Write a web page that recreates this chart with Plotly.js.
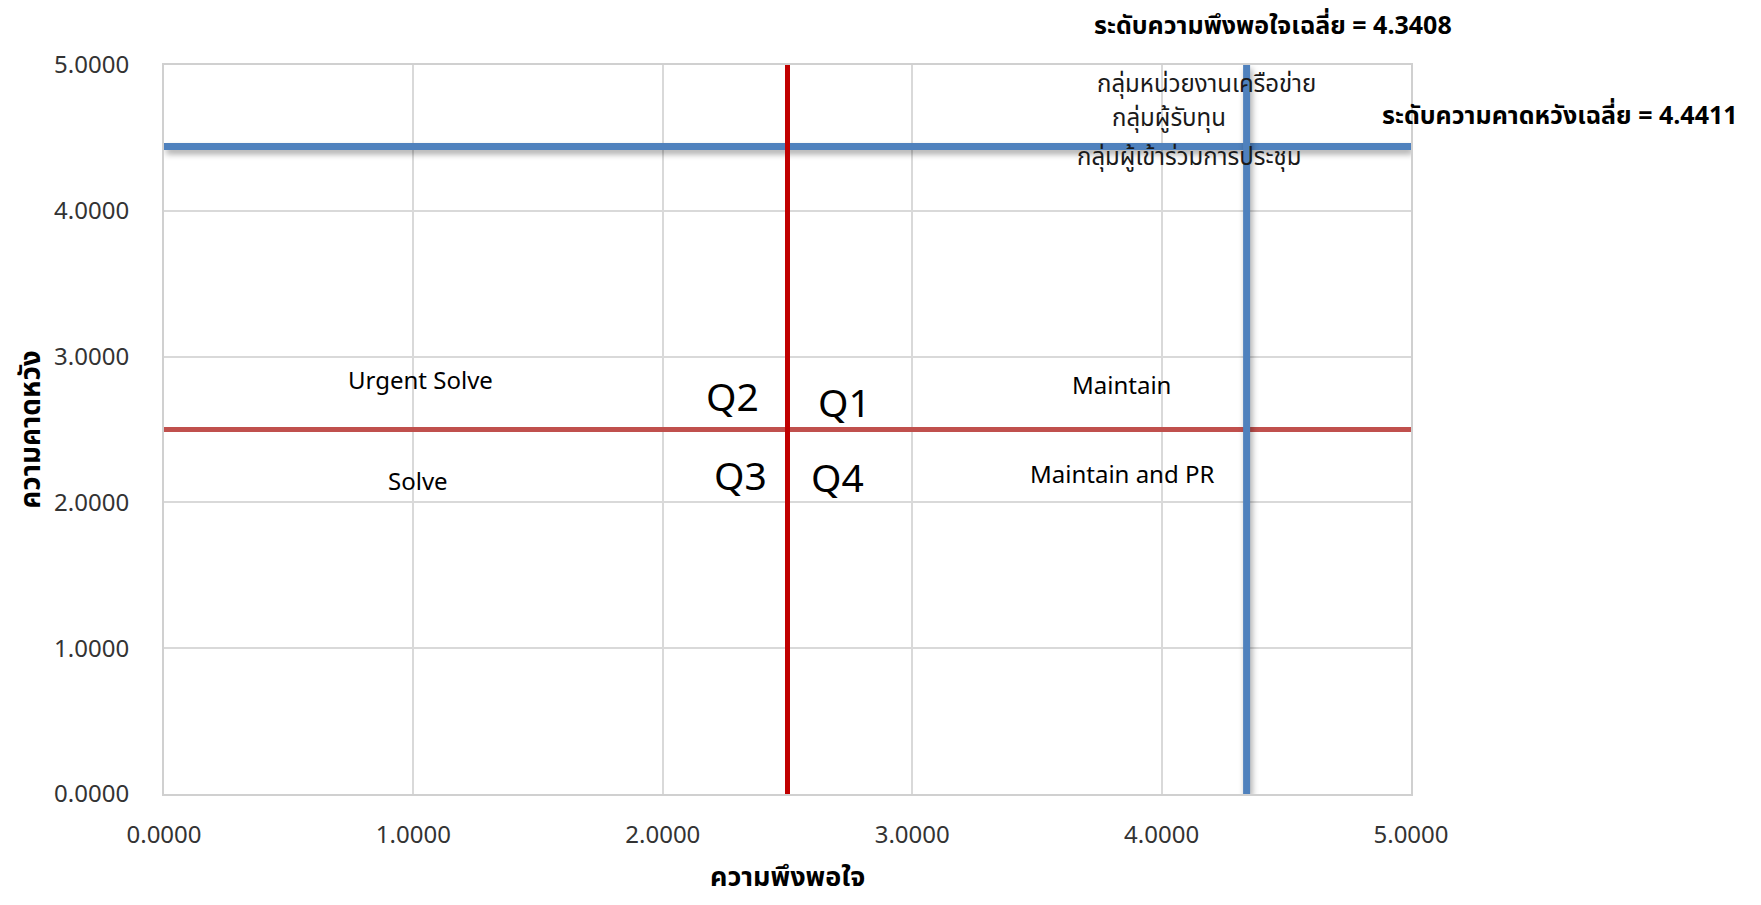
<!DOCTYPE html>
<html>
<head>
<meta charset="utf-8">
<script src="https://cdn.plot.ly/plotly-3.0.1.min.js"></script>
<style>
  html, body { margin: 0; padding: 0; background: #ffffff; }
  #chart { width: 1761px; height: 905px; }
</style>
</head>
<body>
<div id="chart"></div>
<script>
// Quadrant analysis: satisfaction (x) vs expectation (y)
const axisRange = [0, 5];
const tickValues = [0, 1, 2, 3, 4, 5];

// Quadrant dividers at the scale midpoint
const midpoint = 2.5;

// Average levels
const satisfactionMean = 4.3408;
const expectationMean = 4.4411;

// Stakeholder groups (label positions in data units)
const groupNames = ['กลุ่มหน่วยงานเครือข่าย', 'กลุ่มผู้รับทุน', 'กลุ่มผู้เข้าร่วมการประชุม'];
const groupX = [4.18, 4.03, 4.11];
const groupY = [4.86, 4.63, 4.36];

// Quadrant labels
const quadNames = ['Q2', 'Q1', 'Q3', 'Q4'];
const quadX = [2.28, 2.73, 2.31, 2.70];
const quadY = [2.73, 2.69, 2.19, 2.18];

const zoneNames = ['Urgent Solve', 'Solve', 'Maintain', 'Maintain and PR'];
const zoneX = [1.03, 1.02, 3.84, 3.84];
const zoneY = [2.84, 2.15, 2.81, 2.20];

const thaiFont = 'Noto Sans Thai, Noto Sans, sans-serif';
const latinFont = 'Noto Sans, DejaVu Sans, sans-serif';

const traces = [
  { // horizontal divider (expectation midpoint)
    x: axisRange, y: [midpoint, midpoint], mode: 'lines',
    line: { color: '#c0504d', width: 5 }, hoverinfo: 'skip', cliponaxis: false
  },
  { // average expectation
    x: axisRange, y: [expectationMean, expectationMean], mode: 'lines',
    line: { color: '#4f81bd', width: 7 }, hoverinfo: 'skip', cliponaxis: false
  },
  { // vertical divider (satisfaction midpoint)
    x: [midpoint, midpoint], y: axisRange, mode: 'lines',
    line: { color: '#c00000', width: 5 }, hoverinfo: 'skip', cliponaxis: false
  },
  { // average satisfaction
    x: [satisfactionMean, satisfactionMean], y: axisRange, mode: 'lines',
    line: { color: '#4f81bd', width: 7 }, hoverinfo: 'skip', cliponaxis: false
  }
];

const annotations = [];
groupNames.forEach((t, i) => annotations.push({
  x: groupX[i], y: groupY[i], xref: 'x', yref: 'y', text: t, showarrow: false,
  xanchor: 'center', yanchor: 'middle',
  font: { family: thaiFont, size: 24, color: '#1a1a1a' }
}));
quadNames.forEach((t, i) => annotations.push({
  x: quadX[i], y: quadY[i], xref: 'x', yref: 'y', text: t, showarrow: false,
  xanchor: 'center', yanchor: 'middle',
  font: { family: latinFont, size: 39, color: '#000000' }
}));
zoneNames.forEach((t, i) => annotations.push({
  x: zoneX[i], y: zoneY[i], xref: 'x', yref: 'y', text: t, showarrow: false,
  xanchor: 'center', yanchor: 'middle',
  font: { family: latinFont, size: 24, color: '#000000' }
}));

// header labels, placed in pixels and converted to paper units below
const W = 1761, H = 905, mL = 164, mR = 350, mT = 65, mB = 111;
const pw = W - mL - mR, ph = H - mT - mB;
function paperAt(px, py) {
  return { x: (px - mL) / pw, y: (H - mB - py) / ph };
}
const h1 = paperAt(1273, 26);
const h2 = paperAt(1560, 116);
const xt = paperAt(787, 877);
annotations.push({
  x: h1.x, y: h1.y, xref: 'paper', yref: 'paper', xanchor: 'center', yanchor: 'middle',
  text: '<b>ระดับความพึงพอใจเฉลี่ย = ' + satisfactionMean.toFixed(4) + '</b>',
  showarrow: false, font: { family: thaiFont, size: 25, color: '#000000' }
});
annotations.push({
  x: h2.x, y: h2.y, xref: 'paper', yref: 'paper', xanchor: 'center', yanchor: 'middle',
  text: '<b>ระดับความคาดหวังเฉลี่ย = ' + expectationMean.toFixed(4) + '</b>',
  showarrow: false, font: { family: thaiFont, size: 25, color: '#000000' }
});
// x-axis title
annotations.push({
  x: xt.x, y: xt.y, xref: 'paper', yref: 'paper', xanchor: 'center', yanchor: 'middle',
  text: '<b>ความพึงพอใจ</b>',
  showarrow: false, font: { family: thaiFont, size: 27, color: '#000000' }
});

const axisCommon = {
  range: axisRange, tickvals: tickValues, tickformat: '.4f',
  showgrid: true, gridcolor: '#d9d9d9', gridwidth: 2,
  showline: true, linecolor: '#d0d0d0', linewidth: 2, mirror: true,
  zeroline: false, ticks: '', fixedrange: true, automargin: false,
  tickfont: { family: latinFont, size: 24, color: '#333333' }
};

const layout = {
  width: W, height: H,
  margin: { l: mL, r: mR, t: mT, b: mB },
  paper_bgcolor: '#ffffff', plot_bgcolor: '#ffffff',
  showlegend: false,
  xaxis: Object.assign({}, axisCommon, {
    ticklabelstandoff: 18
  }),
  yaxis: Object.assign({}, axisCommon, {
    ticklabelstandoff: 28,
    title: { text: '<b>ความคาดหวัง</b>', standoff: 5, font: { family: thaiFont, size: 28, color: '#000000' } }
  }),
  annotations: annotations
};

Plotly.newPlot('chart', traces, layout, { staticPlot: true }).then(() => {
  // soft drop shadow under the blue average lines
  const paths = document.querySelectorAll('.scatterlayer .trace path.js-line');
  [1, 3].forEach(i => {
    if (paths[i]) paths[i].style.filter = 'drop-shadow(2px 4px 3px rgba(0,0,0,0.35))';
  });
});
</script>
</body>
</html>
